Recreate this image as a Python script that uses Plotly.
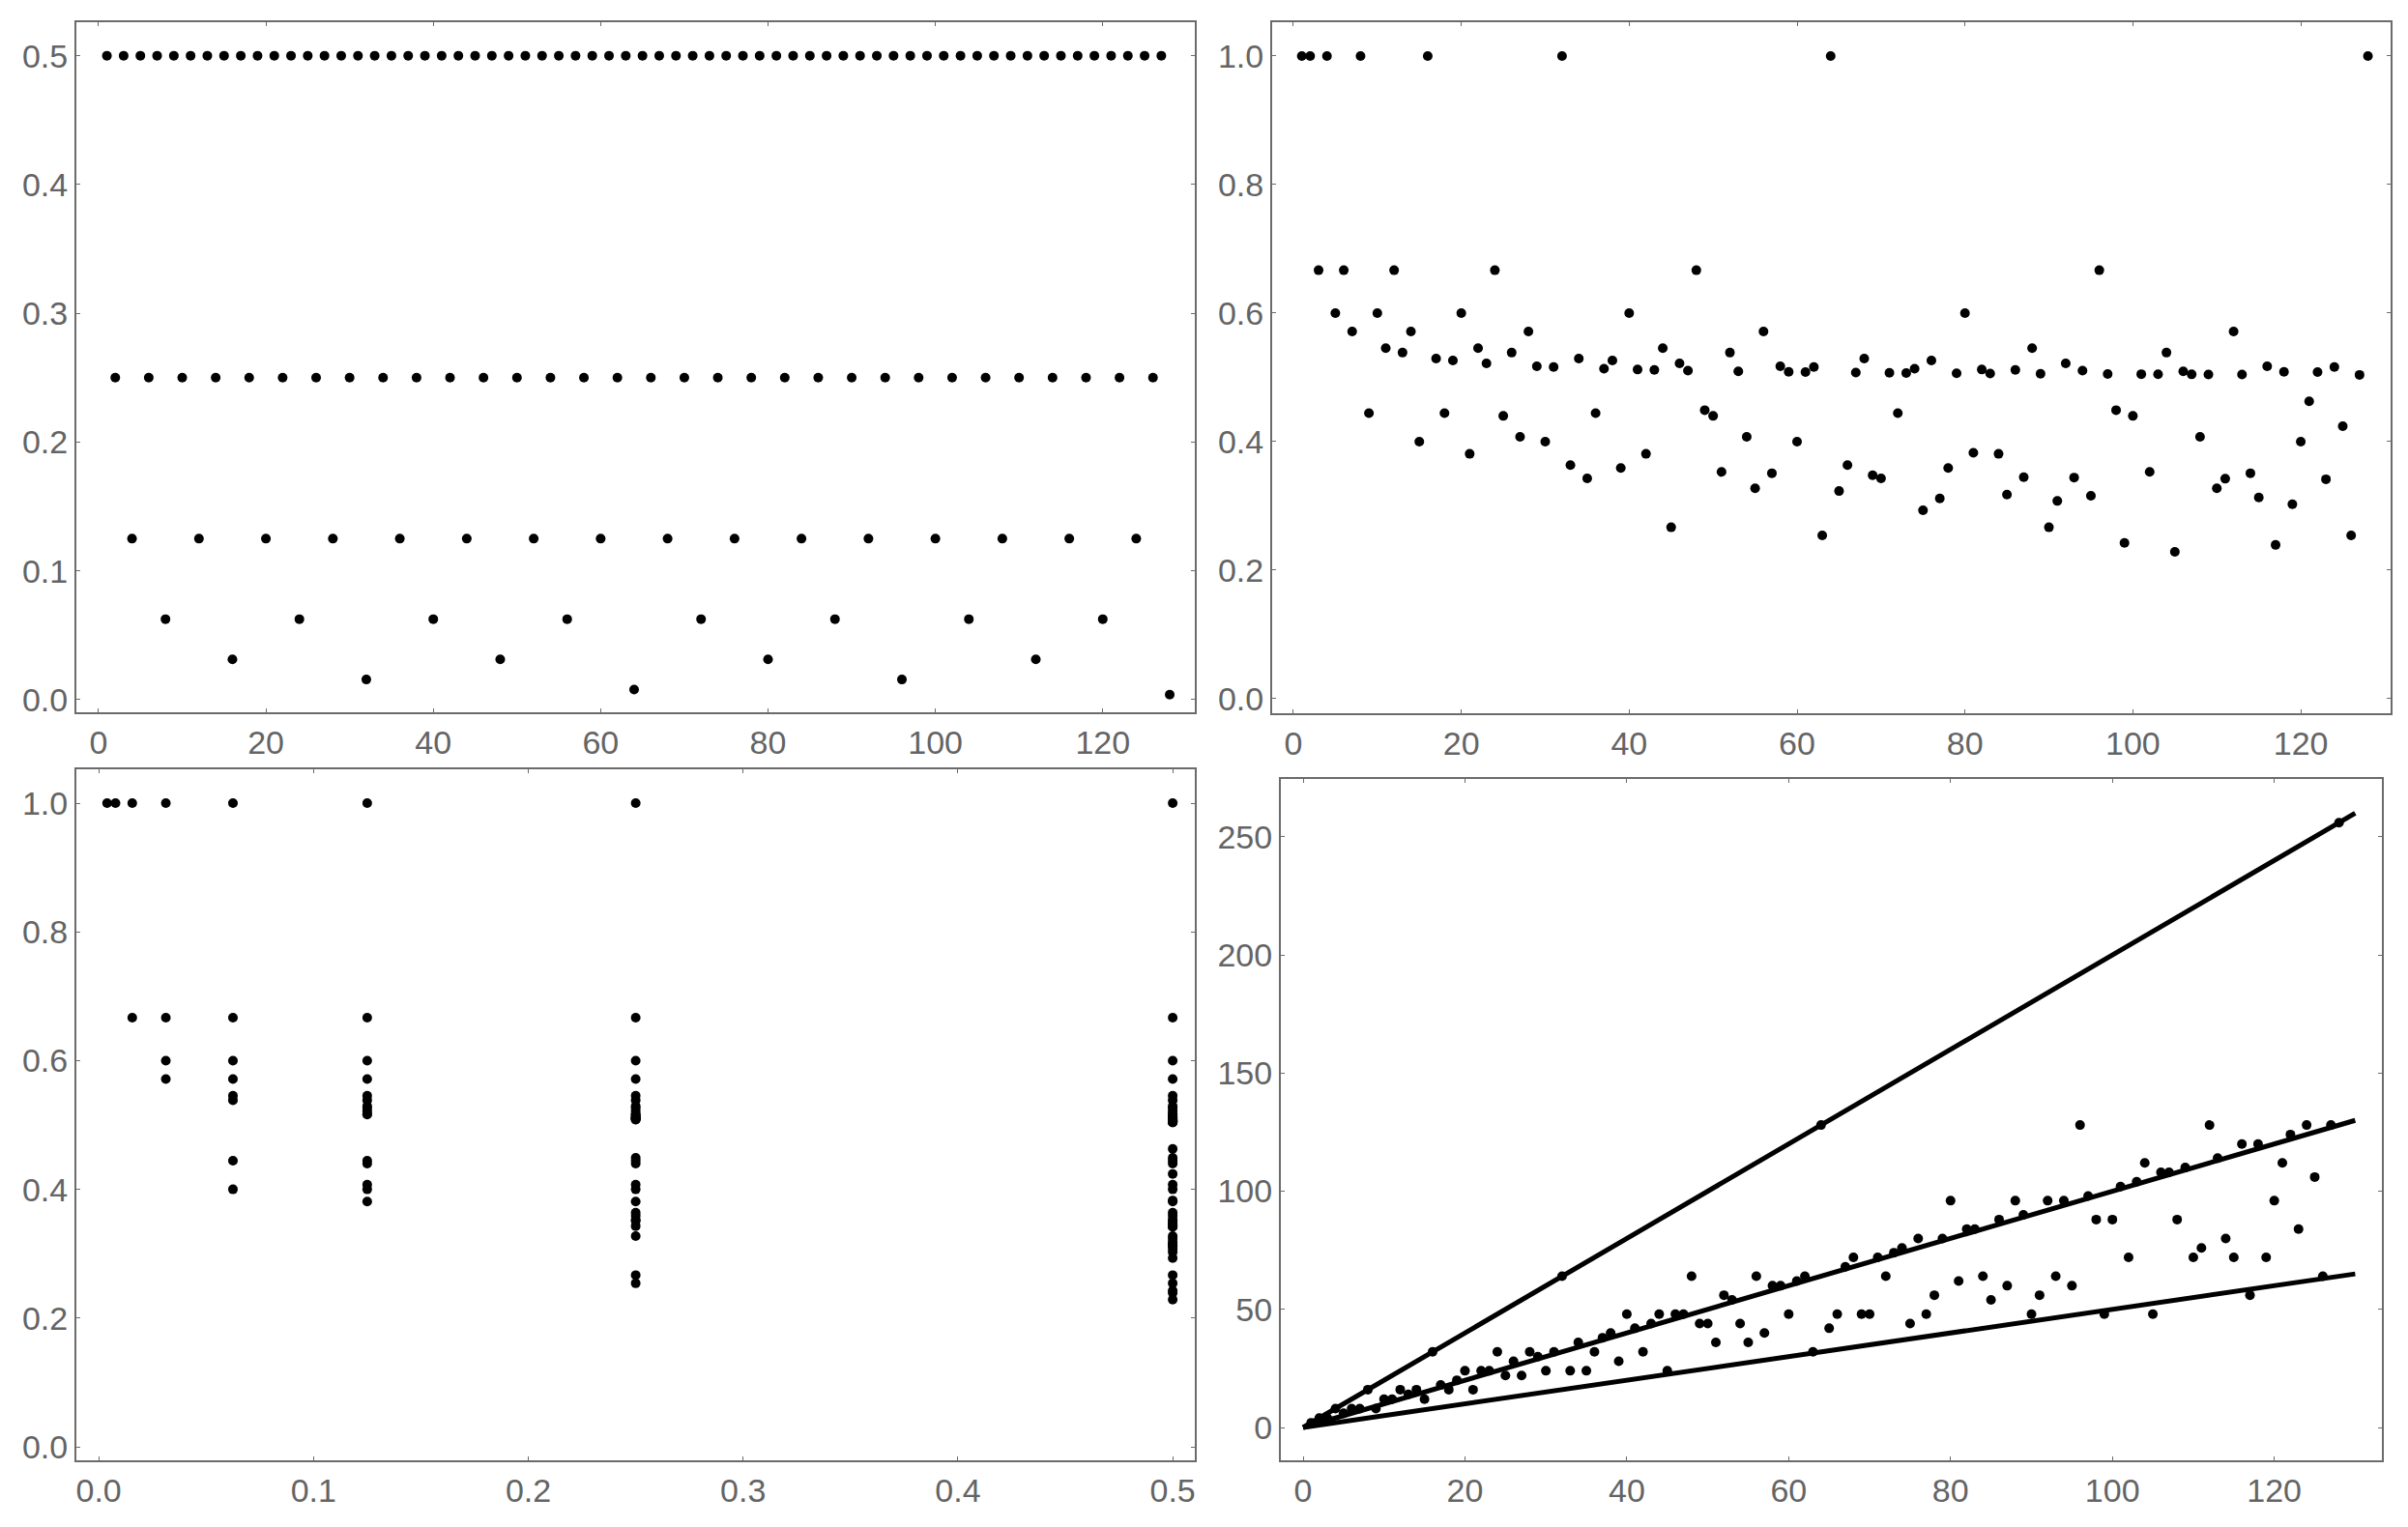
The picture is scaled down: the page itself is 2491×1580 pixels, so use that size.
import plotly.graph_objects as go

# n = 1..128
n = list(range(1, 129))

# top-left panel: values (0.5, 0.25, 0.125, ...)
top_left = [
    0.5, 0.25, 0.5, 0.125, 0.5, 0.25, 0.5, 0.0625, 0.5, 0.25, 0.5, 0.125, 0.5, 0.25, 0.5, 0.03125,
    0.5, 0.25, 0.5, 0.125, 0.5, 0.25, 0.5, 0.0625, 0.5, 0.25, 0.5, 0.125, 0.5, 0.25, 0.5, 0.015625,
    0.5, 0.25, 0.5, 0.125, 0.5, 0.25, 0.5, 0.0625, 0.5, 0.25, 0.5, 0.125, 0.5, 0.25, 0.5, 0.03125,
    0.5, 0.25, 0.5, 0.125, 0.5, 0.25, 0.5, 0.0625, 0.5, 0.25, 0.5, 0.125, 0.5, 0.25, 0.5, 0.0078125,
    0.5, 0.25, 0.5, 0.125, 0.5, 0.25, 0.5, 0.0625, 0.5, 0.25, 0.5, 0.125, 0.5, 0.25, 0.5, 0.03125,
    0.5, 0.25, 0.5, 0.125, 0.5, 0.25, 0.5, 0.0625, 0.5, 0.25, 0.5, 0.125, 0.5, 0.25, 0.5, 0.015625,
    0.5, 0.25, 0.5, 0.125, 0.5, 0.25, 0.5, 0.0625, 0.5, 0.25, 0.5, 0.125, 0.5, 0.25, 0.5, 0.03125,
    0.5, 0.25, 0.5, 0.125, 0.5, 0.25, 0.5, 0.0625, 0.5, 0.25, 0.5, 0.125, 0.5, 0.25, 0.5, 0.00390625,
]

# top-right panel
top_right = [
    1.0, 1.0, 0.6667, 1.0, 0.6, 0.6667, 0.5714, 1.0, 0.4444, 0.6, 0.5455, 0.6667, 0.5385, 0.5714, 0.4, 1.0,
    0.5294, 0.4444, 0.5263, 0.6, 0.381, 0.5455, 0.5217, 0.6667, 0.44, 0.5385, 0.4074, 0.5714, 0.5172, 0.4, 0.5161, 1.0,
    0.3636, 0.5294, 0.3429, 0.4444, 0.5135, 0.5263, 0.359, 0.6, 0.5122, 0.381, 0.5116, 0.5455, 0.2667, 0.5217, 0.5106, 0.6667,
    0.449, 0.44, 0.3529, 0.5385, 0.5094, 0.4074, 0.3273, 0.5714, 0.3509, 0.5172, 0.5085, 0.4, 0.5082, 0.5161, 0.254, 1.0,
    0.3231, 0.3636, 0.5075, 0.5294, 0.3478, 0.3429, 0.507, 0.4444, 0.5068, 0.5135, 0.2933, 0.5263, 0.3117, 0.359, 0.5063, 0.6,
    0.3827, 0.5122, 0.506, 0.381, 0.3176, 0.5116, 0.3448, 0.5455, 0.5056, 0.2667, 0.3077, 0.5217, 0.3441, 0.5106, 0.3158, 0.6667,
    0.5052, 0.449, 0.2424, 0.44, 0.505, 0.3529, 0.5049, 0.5385, 0.2286, 0.5094, 0.5047, 0.4074, 0.5046, 0.3273, 0.3423, 0.5714,
    0.5044, 0.3509, 0.313, 0.5172, 0.2393, 0.5085, 0.3025, 0.4, 0.4628, 0.5082, 0.3415, 0.5161, 0.424, 0.254, 0.5039, 1.0,
]

# bottom-right panel points
bottom_right = [
    2, 4, 4, 8, 6, 8, 8, 16, 8, 12, 12, 16, 14, 16, 12, 32,
    18, 16, 20, 24, 16, 24, 24, 32, 22, 28, 22, 32, 30, 24, 32, 64,
    24, 36, 24, 32, 38, 40, 28, 48, 42, 32, 44, 48, 24, 48, 48, 64,
    44, 44, 36, 56, 54, 44, 36, 64, 40, 60, 60, 48, 62, 64, 32, 128,
    42, 48, 68, 72, 48, 48, 72, 64, 74, 76, 44, 80, 48, 56, 80, 96,
    62, 84, 84, 64, 54, 88, 60, 96, 90, 48, 56, 96, 64, 96, 60, 128,
    98, 88, 48, 88, 102, 72, 104, 112, 48, 108, 108, 88, 110, 72, 76, 128,
    114, 80, 72, 120, 56, 120, 72, 96, 112, 124, 84, 128, 106, 64, 128, 256,
]

# reference lines in bottom-right panel
line_x = [0, 130]
line_y_end = [260, 130, 65]

frame = "#6b6b6b"
label = "#646464"
dot = dict(color="black", size=10)

fig = go.Figure()
fig.add_trace(go.Scatter(x=n, y=top_left, mode="markers", marker=dot, xaxis="x", yaxis="y"))
fig.add_trace(go.Scatter(x=n, y=top_right, mode="markers", marker=dot, xaxis="x2", yaxis="y2"))
fig.add_trace(go.Scatter(x=top_left, y=top_right, mode="markers", marker=dot, xaxis="x3", yaxis="y3"))
for yend in line_y_end:
    fig.add_trace(go.Scatter(x=line_x, y=[0, yend], mode="lines", line=dict(color="black", width=5),
                             xaxis="x4", yaxis="y4"))
fig.add_trace(go.Scatter(x=n, y=bottom_right, mode="markers", marker=dot, xaxis="x4", yaxis="y4"))


def ax(domain, rng, tickvals, fmt, anchor):
    return dict(domain=domain, range=rng, tickvals=tickvals, tickformat=fmt, anchor=anchor,
                showgrid=False, zeroline=False, showline=True, linecolor=frame, linewidth=2,
                mirror="ticks", ticks="inside", ticklen=4, tickwidth=1, tickcolor=frame,
                tickfont=dict(family="Liberation Sans, Arial", size=34, color=label),
                automargin=False)


# page has an 8px body margin, so positions below are page pixels minus 8
OFF = 8
W, H = 2491 - 2 * OFF, 1580 - 2 * OFF
fx = lambda a, b: [(a - OFF) / W, (b - OFF) / W]
fy = lambda top, bot: [1 - (bot - OFF) / H, 1 - (top - OFF) / H]

fig.update_layout(
    width=W, height=H, margin=dict(l=0, r=0, t=0, b=0),
    plot_bgcolor="white", paper_bgcolor="white", showlegend=False,
    xaxis=ax(fx(79, 1236), [-2.65, 131.0], [0, 20, 40, 60, 80, 100, 120], "d", "y"),
    yaxis=ax(fy(23, 737), [-0.0098, 0.526], [0, 0.1, 0.2, 0.3, 0.4, 0.5], ".1f", "x"),
    xaxis2=ax(fx(1316, 2473), [-2.53, 130.7], [0, 20, 40, 60, 80, 100, 120], "d", "y2"),
    yaxis2=ax(fy(23, 738), [-0.0226, 1.0526], [0, 0.2, 0.4, 0.6, 0.8, 1.0], ".1f", "x2"),
    xaxis3=ax(fx(79, 1236), [-0.0104, 0.5103], [0, 0.1, 0.2, 0.3, 0.4, 0.5], ".1f", "y3"),
    yaxis3=ax(fy(796, 1511), [-0.021, 1.0526], [0, 0.2, 0.4, 0.6, 0.8, 1.0], ".1f", "x3"),
    xaxis4=ax(fx(1325, 2464), [-2.75, 133.3], [0, 20, 40, 60, 80, 100, 120], "d", "y4"),
    yaxis4=ax(fy(806, 1511), [-13.9, 274.5], [0, 50, 100, 150, 200, 250], "d", "x4"),
)

fig.write_html("out.html")
